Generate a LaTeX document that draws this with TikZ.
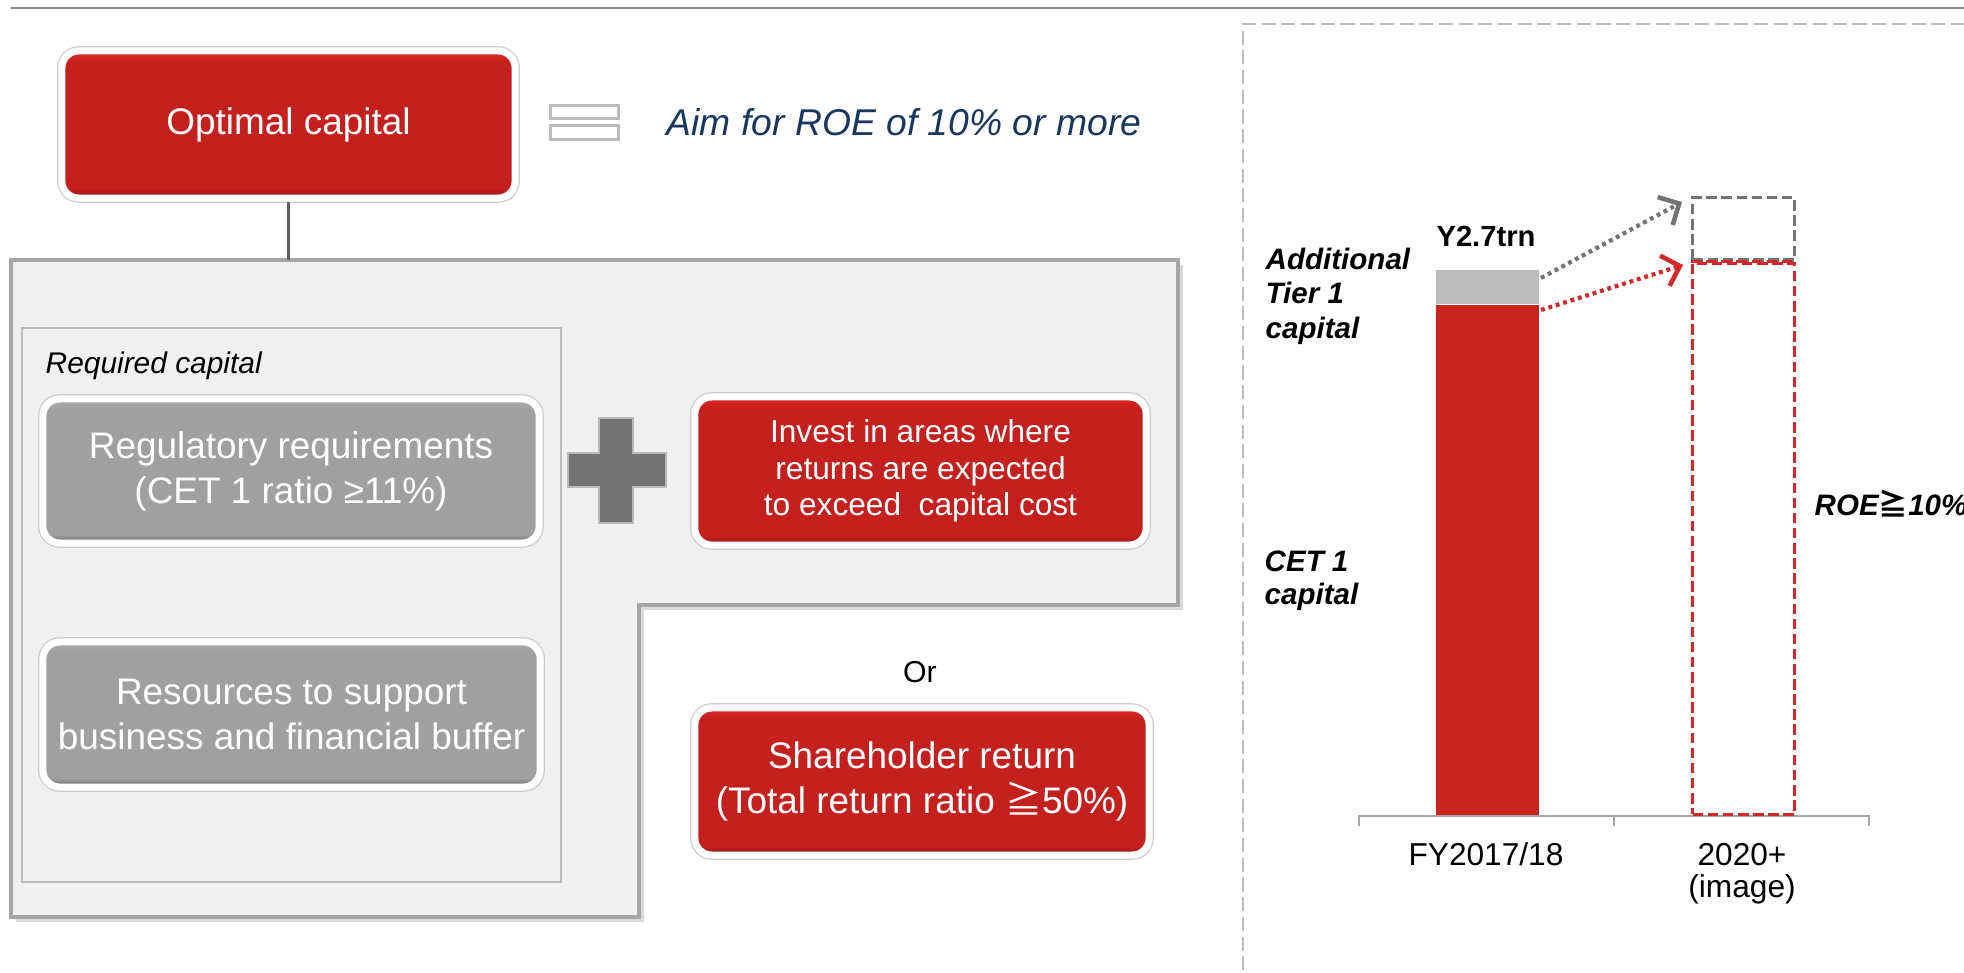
\documentclass[tikz,border=0pt]{standalone}
\usepackage{fontspec}
\setmainfont{Liberation Sans}
\newfontfamily\cjk{Noto Sans CJK JP}
\usepackage{tikz}
\usetikzlibrary{arrows.meta}
\usetikzlibrary{calc,shapes,shadows}

\definecolor{rouge}{HTML}{C4201E}
\definecolor{rougeclair}{HTML}{D92926}
\definecolor{rougefonce}{HTML}{8E1613}
\definecolor{rougebarre}{HTML}{C9221F}
\definecolor{rougetrait}{HTML}{D3282A}
\definecolor{gris}{HTML}{A0A0A0}
\definecolor{grisclair}{HTML}{ABABAB}
\definecolor{grisfonce}{HTML}{6A6A6A}
\definecolor{grisfond}{HTML}{F0F0F0}
\definecolor{grisbord}{HTML}{A6A6A6}
\definecolor{grisplus}{HTML}{737373}
\definecolor{bleunuit}{HTML}{17375E}

\pgfdeclareverticalshading{ombrerouge}{100bp}{color(0bp)=(rougefonce); color(25bp)=(rougefonce); color(28bp)=(rouge); color(71bp)=(rouge); color(75bp)=(rougeclair); color(100bp)=(rougeclair)}
\pgfdeclareverticalshading{ombregris}{100bp}{color(0bp)=(grisfonce); color(25bp)=(grisfonce); color(28bp)=(gris); color(71bp)=(gris); color(75bp)=(grisclair); color(100bp)=(grisclair)}

\newcommand{\gsup}{{\cjk ≧}}

\tikzset{
	bloc/.style={rounded corners=4.8pt, draw=white, line width=2pt, align=center, text=white, inner sep=0pt,
		font=\fontsize{10.5}{12.8}\selectfont,
		drop shadow={opacity=0.22, shadow xshift=0.9pt, shadow yshift=-1.1pt},
		preaction={draw=black!20, line width=2.7pt}},
	blocrouge/.style={bloc, shading=ombrerouge},
	blocgris/.style={bloc, shading=ombregris},
	etiquette/.style={inner sep=0pt, font=\fontsize{8.4}{9.9}\selectfont\bfseries\itshape, align=left},
	fleche/.style={line width=1.2pt, dash pattern=on 1.1pt off 1.1pt, -{Straight Barb[length=4.5pt,width=9pt,line width=1.3pt]}},
	pointille/.style={line width=0.9pt, dash pattern=on 3pt off 1.3pt}
}

\begin{document}
\begin{tikzpicture}[x=0.01cm,y=-0.01cm]
				\useasboundingbox (0,0) rectangle (1964,973);
				% Filet du haut
				\draw [grisbord!80!black,line width=0.85pt] (11,8) -- (1964,8);
				% Panneau en L
				\draw [fill=grisfond,draw=grisbord,line width=0.9pt,drop shadow={opacity=0.3,shadow xshift=1.4pt,shadow yshift=-1.4pt}]
					(11,260) -- (1178,260) -- (1178,605) -- (639,605) -- (639,917) -- (11,917) -- cycle;
				\draw [draw=grisbord!75,line width=0.7pt] (22,328) rectangle (561,882);
				\node [anchor=base west,inner sep=0pt,font=\fontsize{8.5}{10}\selectfont\itshape] (requis) at (45,373) {Required capital};
				% Signe plus
				\draw [fill=grisplus,draw=grisbord!80,line width=0.7pt]
					(568,453) -- (599,453) -- (599,418) -- (633,418) -- (633,453) -- (666,453) -- (666,487)
					-- (633,487) -- (633,523) -- (599,523) -- (599,487) -- (568,487) -- cycle;
				% Blocs
				\node [blocrouge,minimum width=4.53cm,minimum height=1.47cm] (optimal) at (288.5,124.5) {Optimal capital};
				\node [blocgris,minimum width=4.96cm,minimum height=1.44cm] (regle) at (291,471) {Regulatory requirements\\(CET 1 ratio ≥11\%)};
				\node [blocgris,minimum width=4.97cm,minimum height=1.45cm] (tampon) at (291.5,714.5) {Resources to support\\business and financial buffer};
				\node [blocrouge,minimum width=4.51cm,minimum height=1.48cm,font=\fontsize{9}{10.3}\selectfont] (investir) at (920.5,471) {Invest in areas where\\returns are expected\\to exceed\ \ capital cost};
				\node [blocrouge,minimum width=4.54cm,minimum height=1.47cm] (retour) at (922,781.5) {Shareholder return\\(Total return ratio \gsup50\%)};
				\node [inner sep=0pt,font=\fontsize{8.6}{10}\selectfont] (ou) at (920,672) {Or};
				\coordinate (haut) at (288.5,260);
				\draw [grisfonce!90!black,line width=1pt] (optimal.south) -- (haut);
				% Signe egal et objectif
				\draw [fill=white,draw=grisbord!75,line width=0.85pt] (550.5,105.5) rectangle (618.5,118.5);
				\draw [fill=white,draw=grisbord!75,line width=0.85pt] (550.5,125.5) rectangle (618.5,139.5);
				\node [anchor=base,inner sep=0pt,text=bleunuit,font=\fontsize{10.6}{12}\selectfont\itshape] (objectif) at (904,136) {Aim for ROE of 10\% or more};
				% Graphique
				\draw [grisbord!75,line width=0.6pt,dash pattern=on 4pt off 1.6pt] (1243,990) -- (1243,24) -- (1990,24);
				\draw [grisbord,line width=0.6pt] (1359,826) -- (1359,816) -- (1869,816) -- (1869,826);
				\draw [grisbord,line width=0.6pt] (1614,816) -- (1614,826);
				\node [fill=rougebarre,inner sep=0pt,minimum width=1.03cm,minimum height=5.10cm,anchor=south west] (cet) at (1435,816) {};
				\node [fill=grisbord!75,inner sep=0pt,minimum width=1.03cm,minimum height=0.34cm,anchor=south west] (at) at (cet.north west) {};
				\node [pointille,draw=rougetrait,inner sep=0pt,minimum width=1.02cm,minimum height=5.51cm,anchor=south west] (cible) at (1691,816) {};
				\node [pointille,draw=grisplus,inner sep=0pt,minimum width=1.02cm,minimum height=0.62cm,anchor=south west] (cibleat) at (cible.north west) {};
				\draw [pointille,rougetrait] (cible.north west) -- (cible.north east);
				% Fleches
				\coordinate (g1) at (1541,278);
				\coordinate (g2) at (1682,202);
				\coordinate (r1) at (1541,310);
				\coordinate (r2) at (1683,265);
				\draw [fleche,grisplus] (g1) -- (g2);
				\draw [fleche,rougetrait] (r1) -- (r2);
				% Textes du graphique
				\node [anchor=base,inner sep=0pt,font=\fontsize{8.3}{10}\selectfont\bfseries] (montant) at (1486,246) {Y2.7trn};
				\node [etiquette,anchor=north west] (at1) at (1265,247) {Additional\\Tier 1\\capital};
				\node [etiquette,anchor=north west,font=\fontsize{8.4}{9.4}\selectfont\bfseries\itshape] (cet1) at (1264,550) {CET 1\\capital};
				\node [etiquette,anchor=base west] (roe) at (1814,515) {ROE\gsup10\%};
				\node [anchor=base,inner sep=0pt,font=\fontsize{9}{10}\selectfont] (fy) at (1486,865) {FY2017/18};
				\node [anchor=north,inner sep=0pt,align=center,font=\fontsize{9}{9.1}\selectfont] (futur) at (1742,843) {2020+\\(image)};
\end{tikzpicture}
\end{document}
